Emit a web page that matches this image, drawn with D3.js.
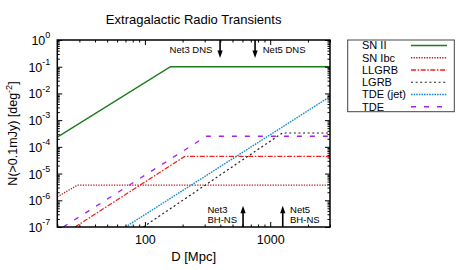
<!DOCTYPE html>
<html>
<head>
<meta charset="utf-8">
<script src="https://cdn.jsdelivr.net/npm/d3@7"></script>
<style>
  html, body { margin: 0; padding: 0; background: #fff; }
  svg { display: block; font-family: "Liberation Sans", Arial, Helvetica, sans-serif; }
</style>
</head>
<body>
<svg id="chart" width="463" height="270"></svg>
<script>
// ----- Data -----
const seriesNames = ["SN II", "SN Ibc", "LLGRB", "LGRB", "TDE (jet)", "TDE"];
const snII    = [[20, 2.3e-4], [160, 0.1], [3000, 0.1]];
const snIbc   = [[20, 1.35e-6], [29, 3.7e-6], [3000, 3.7e-6]];
const llgrb   = [[27.7, 1e-7], [208, 4.4e-5], [3000, 4.4e-5]];
const lgrb    = [[97, 1e-7], [1250, 3.3e-4], [3000, 3.3e-4]];
const tdeJet  = [[70, 1e-7], [3000, 7.6e-3]];
const tde     = [[22.3, 1e-7], [310, 2.5e-4], [3000, 2.5e-4]];
const seriesData = [snII, snIbc, llgrb, lgrb, tdeJet, tde];

// detector horizons (Mpc)
const dnsArrows  = [{ name: "Net3 DNS", d: 398, side: "left" }, { name: "Net5 DNS", d: 757, side: "right" }];
const bhnsArrows = [{ name: ["Net3", "BH-NS"], d: 607, side: "left" }, { name: ["Net5", "BH-NS"], d: 1259, side: "right" }];

const xDomain = [20, 3000];
const yDomain = [1e-7, 1];
const xMajor = [100, 1000];
const yExponents = [-7, -6, -5, -4, -3, -2, -1, 0];

// ----- Styles -----
const styles = [
  { color: "#1d7a1d", dash: null,          width: 1.5 },
  { color: "#b51c1c", dash: "1.3,1.3",     width: 1.3 },
  { color: "#f02020", dash: "5,1.6,1.5,1.6", width: 1.3 },
  { color: "#202020", dash: "2,2.6",       width: 1.2 },
  { color: "#1a8ad0", dash: "1.6,1",       width: 1.4 },
  { color: "#a020f0", dash: "5,8",         width: 1.3 }
];

const M = { left: 57.3, right: 330, top: 40, bottom: 227 };

const svg = d3.select("#chart");
const x = d3.scaleLog().domain(xDomain).range([M.left, M.right]);
const y = d3.scaleLog().domain(yDomain).range([M.bottom, M.top]);

// clip
svg.append("clipPath").attr("id", "plotclip")
  .append("rect")
  .attr("x", M.left).attr("y", M.top)
  .attr("width", M.right - M.left).attr("height", M.bottom - M.top);

// ----- Series lines -----
const line = d3.line().x(d => x(d[0])).y(d => y(d[1]));
const lineG = svg.append("g").attr("clip-path", "url(#plotclip)");
seriesData.forEach((s, i) => {
  lineG.append("path")
    .attr("d", line(s))
    .attr("fill", "none")
    .attr("stroke", styles[i].color)
    .attr("stroke-width", styles[i].width)
    .attr("stroke-dasharray", styles[i].dash);
});

// ----- Axes (ticks inward, mirrored) -----
const xMinor = [];
for (let e = 1; e <= 3; e++) for (let k = 1; k <= 9; k++) {
  const v = k * Math.pow(10, e);
  if (v >= xDomain[0] && v <= xDomain[1] && !xMajor.includes(v)) xMinor.push(v);
}
const yMinor = [];
for (let e = -7; e < 0; e++) for (let k = 2; k <= 9; k++) yMinor.push(k * Math.pow(10, e));
const yMajor = yExponents.map(e => Math.pow(10, e));

function styleAxis(g) {
  g.select(".domain").remove();
  g.selectAll("line").attr("stroke", "#000").attr("stroke-width", 1);
}

svg.append("g").attr("transform", `translate(0,${M.bottom})`)
  .call(d3.axisBottom(x).tickValues(xMajor).tickFormat(d3.format("d")).tickSize(-5).tickPadding(8))
  .call(styleAxis)
  .selectAll("text").attr("font-size", 12.5).attr("fill", "#000").attr("font-family", null);
svg.append("g").attr("transform", `translate(0,${M.bottom})`)
  .call(d3.axisBottom(x).tickValues(xMinor).tickFormat("").tickSize(-2.5))
  .call(styleAxis);
svg.append("g").attr("transform", `translate(0,${M.top})`)
  .call(d3.axisTop(x).tickValues(xMajor).tickFormat("").tickSize(-5))
  .call(styleAxis);
svg.append("g").attr("transform", `translate(0,${M.top})`)
  .call(d3.axisTop(x).tickValues(xMinor).tickFormat("").tickSize(-2.5))
  .call(styleAxis);

const yAxisG = svg.append("g").attr("transform", `translate(${M.left},0)`)
  .call(d3.axisLeft(y).tickValues(yMajor).tickFormat("").tickSize(-5).tickPadding(8))
  .call(styleAxis);
yAxisG.selectAll(".tick text").each(function(d) {
  const t = d3.select(this)
    .attr("font-size", 12.5).attr("fill", "#000").attr("font-family", null)
    .attr("x", -7).attr("dy", "0.36em");
  t.append("tspan").text("10");
  t.append("tspan").attr("font-size", 9).attr("dy", "-0.75em")
    .text(Math.round(Math.log10(d)));
});
svg.append("g").attr("transform", `translate(${M.left},0)`)
  .call(d3.axisLeft(y).tickValues(yMinor).tickFormat("").tickSize(-2.5))
  .call(styleAxis);
svg.append("g").attr("transform", `translate(${M.right},0)`)
  .call(d3.axisRight(y).tickValues(yMajor).tickFormat("").tickSize(-5))
  .call(styleAxis);
svg.append("g").attr("transform", `translate(${M.right},0)`)
  .call(d3.axisRight(y).tickValues(yMinor).tickFormat("").tickSize(-2.5))
  .call(styleAxis);

// border
svg.append("rect")
  .attr("x", M.left).attr("y", M.top)
  .attr("width", M.right - M.left).attr("height", M.bottom - M.top)
  .attr("fill", "none").attr("stroke", "#000").attr("stroke-width", 1.5);

// ----- Horizon arrows -----
const arrowG = svg.append("g");
function arrow(xp, y0, y1) {
  const dir = y1 > y0 ? 1 : -1;
  arrowG.append("line")
    .attr("x1", xp).attr("x2", xp).attr("y1", y0).attr("y2", y1 - dir * 6)
    .attr("stroke", "#000").attr("stroke-width", 1.6);
  arrowG.append("path")
    .attr("d", `M${xp - 2.6},${y1 - dir * 7.5}L${xp + 2.6},${y1 - dir * 7.5}L${xp},${y1}Z`)
    .attr("fill", "#000");
}
dnsArrows.forEach(a => {
  const xp = x(a.d);
  arrow(xp, y(1), y(0.21));
  arrowG.append("text")
    .attr("x", a.side === "left" ? xp - 7.7 : xp + 7.7)
    .attr("y", 52.7)
    .attr("text-anchor", a.side === "left" ? "end" : "start")
    .attr("font-size", 9.5)
    .text(a.name);
});
bhnsArrows.forEach(a => {
  const xp = x(a.d);
  arrow(xp, y(1e-7), y(6.25e-7));
  const t = arrowG.append("text").attr("font-size", 9.5);
  t.append("tspan").attr("y", 212.7).text(a.name[0]);
  const t2 = t.append("tspan").attr("y", 223.3).text(a.name[1]);
  const w = t2.node().getComputedTextLength();
  const x0 = a.side === "left" ? xp - 6 - w : xp + 7.3;
  t.selectAll("tspan").attr("x", x0);
});

// ----- Titles -----
svg.append("text")
  .attr("x", (M.left + M.right) / 2).attr("y", 24)
  .attr("text-anchor", "middle").attr("font-size", 13)
  .text("Extragalactic Radio Transients");
svg.append("text")
  .attr("x", (M.left + M.right) / 2).attr("y", 261)
  .attr("text-anchor", "middle").attr("font-size", 13)
  .text("D [Mpc]");
const yl = svg.append("text")
  .attr("transform", `translate(17,${(M.top + M.bottom) / 2}) rotate(-90)`)
  .attr("text-anchor", "middle").attr("font-size", 12.5);
yl.append("tspan").text("N(>0.1mJy) [deg");
yl.append("tspan").attr("font-size", 9).attr("dy", "-0.6em").text("-2");
yl.append("tspan").attr("dy", "0.45em").text("]");

// ----- Legend -----
const lg = svg.append("g");
lg.append("rect")
  .attr("x", 347.7).attr("y", 40).attr("width", 106.6).attr("height", 71.7)
  .attr("fill", "#fff").attr("stroke", "#444").attr("stroke-width", 1);
seriesNames.forEach((name, i) => {
  const yy = 45.5 + i * 12.25;
  lg.append("text")
    .attr("x", 362).attr("y", yy).attr("dy", "0.36em")
    .attr("font-size", 11).text(name);
  lg.append("line")
    .attr("x1", 411).attr("x2", 447).attr("y1", yy).attr("y2", yy)
    .attr("stroke", styles[i].color)
    .attr("stroke-width", styles[i].width)
    .attr("stroke-dasharray", styles[i].dash);
});
</script>
</body>
</html>
